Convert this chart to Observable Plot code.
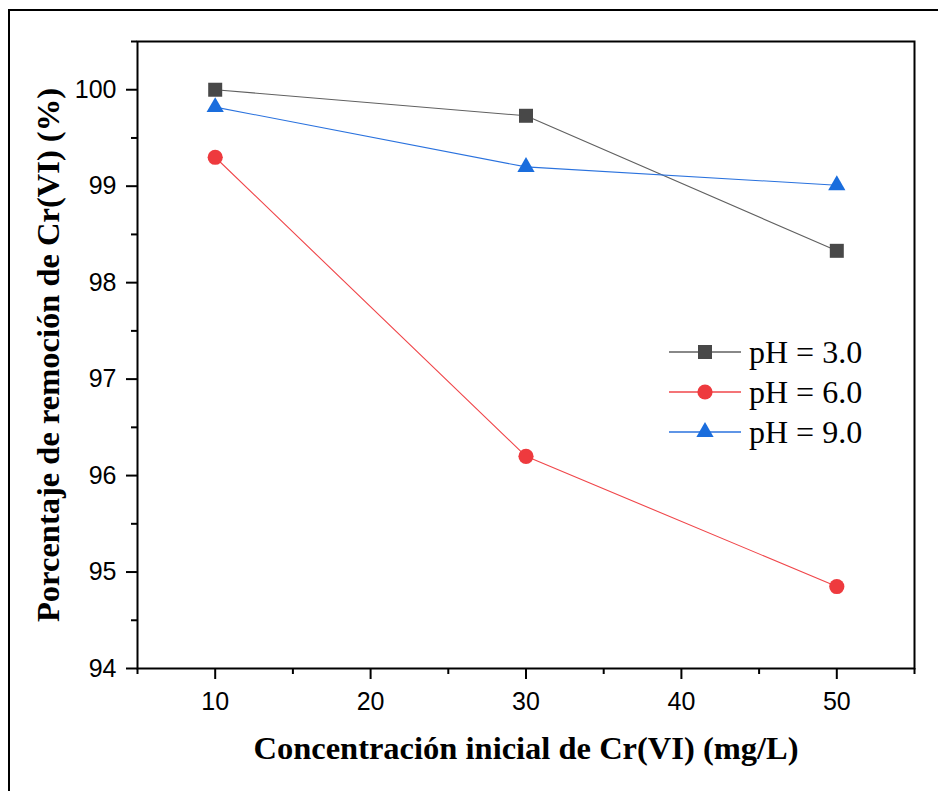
<!DOCTYPE html>
<html><head><meta charset="utf-8">
<script src="https://cdn.jsdelivr.net/npm/d3@7"></script>
<script src="https://cdn.jsdelivr.net/npm/@observablehq/plot@0.6"></script>
<style>
body{margin:0;background:#fff;}
#wrap{position:relative;width:938px;height:791px;overflow:hidden;background:#fff;}
#outer{position:absolute;left:8px;top:9px;width:1000px;height:1000px;border:2px solid #000;box-sizing:border-box;}
#chart{position:absolute;left:0;top:0;}
#legend{position:absolute;left:660px;top:330px;}
</style></head><body>
<div id="wrap"><div id="outer"></div><div id="chart"></div><div id="legend"></div></div>
<script>
const concentrations = [10, 30, 50];
const seriesNames = ["pH = 3.0", "pH = 6.0", "pH = 9.0"];
const pH3 = [100.0, 99.73, 98.33];
const pH6 = [99.30, 96.20, 94.85];
const pH9 = [99.82, 99.20, 99.01];
const seriesValues = [pH3, pH6, pH9];
const seriesSymbols = ["square", "circle", "triangle"];
const seriesLine = ["#606060", "#f0464a", "#2a72de"];
const seriesFill = ["#484848", "#ee3a3e", "#1a6ddd"];
const seriesR = [7.9, 7.6, 6.4];
const yTicks = [94, 95, 96, 97, 98, 99, 100];
const yMinor = [94.5, 95.5, 96.5, 97.5, 98.5, 99.5, 100.5];
const xTicks = [10, 20, 30, 40, 50];
const xMinor = [5, 15, 25, 35, 45, 55];
const xTitle = "Concentración inicial de Cr(VI) (mg/L)";
const yTitle = "Porcentaje de remoción de Cr(VI) (%)";

const rows = [];
seriesNames.forEach((s, i) => concentrations.forEach((c, j) => rows.push({series: s, i, x: c, y: seriesValues[i][j]})));

const marks = [];
seriesNames.forEach((s, i) => {
  const d = rows.filter(r => r.i === i);
  marks.push(Plot.line(d, {x: "x", y: "y", stroke: seriesLine[i], strokeWidth: 1.1}));
});
seriesNames.forEach((s, i) => {
  const d = rows.filter(r => r.i === i);
  marks.push(Plot.dot(d, {x: "x", y: "y", symbol: () => seriesSymbols[i], r: seriesR[i], fill: seriesFill[i], stroke: "none"}));
});

const plot = Plot.plot({
  width: 938, height: 791,
  marginLeft: 137, marginTop: 41, marginRight: 24, marginBottom: 123,
  style: {background: "transparent", fontFamily: "Liberation Sans, Arial, sans-serif", color: "#000"},
  x: {domain: [5, 55]},
  y: {domain: [94, 100.5]},
  symbol: {type: "identity"},
  marks: [
    ...marks,
    Plot.frame({stroke: "#000", strokeWidth: 2}),
    Plot.axisX({ticks: xTicks, tickFormat: "d", tickSize: 11, tickPadding: 13, strokeWidth: 2, fontSize: 25, fill: "#000", label: null}),
    Plot.axisX({ticks: xMinor, tickSize: 6, text: null, strokeWidth: 2, label: null}),
    Plot.axisY({ticks: yTicks, tickFormat: "d", tickSize: 11, tickPadding: 10, strokeWidth: 2, fontSize: 25, fill: "#000", label: null}),
    Plot.axisY({ticks: yMinor, tickSize: 6, text: null, strokeWidth: 2, label: null}),
    Plot.text([xTitle], {frameAnchor: "bottom", dy: 90, text: d => d, textAnchor: "middle", fontFamily: "Liberation Serif, Times New Roman, serif", fontWeight: "bold", fontSize: 32.5, fill: "#000"}),
    Plot.text([yTitle], {frameAnchor: "left", dx: -89, dy: 0, rotate: -90, textAnchor: "middle", text: d => d, fontFamily: "Liberation Serif, Times New Roman, serif", fontWeight: "bold", fontSize: 32.5, fill: "#000"})
  ]
});
document.getElementById("chart").appendChild(plot);

// Legend
const lg = d3.select("#legend").append("svg").attr("width", 270).attr("height", 130);
seriesNames.forEach((s, i) => {
  const cy = 22 + i * 40;
  const g = lg.append("g").attr("transform", `translate(0,${cy})`);
  g.append("line").attr("x1", 9).attr("x2", 81).attr("y1", 0).attr("y2", 0).attr("stroke", seriesLine[i]).attr("stroke-width", 1.3);
  const sym = {square: d3.symbolSquare, circle: d3.symbolCircle, triangle: d3.symbolTriangle}[seriesSymbols[i]];
  g.append("path").attr("transform", "translate(45,0)").attr("d", d3.symbol(sym, Math.PI * seriesR[i] * seriesR[i])()).attr("fill", seriesFill[i]);
  g.append("text").attr("x", 89).attr("y", 0).attr("dy", "0.35em").attr("font-family", "Liberation Serif, Times New Roman, serif").attr("font-size", 32).attr("fill", "#000").text(s);
});
</script>
</body></html>
